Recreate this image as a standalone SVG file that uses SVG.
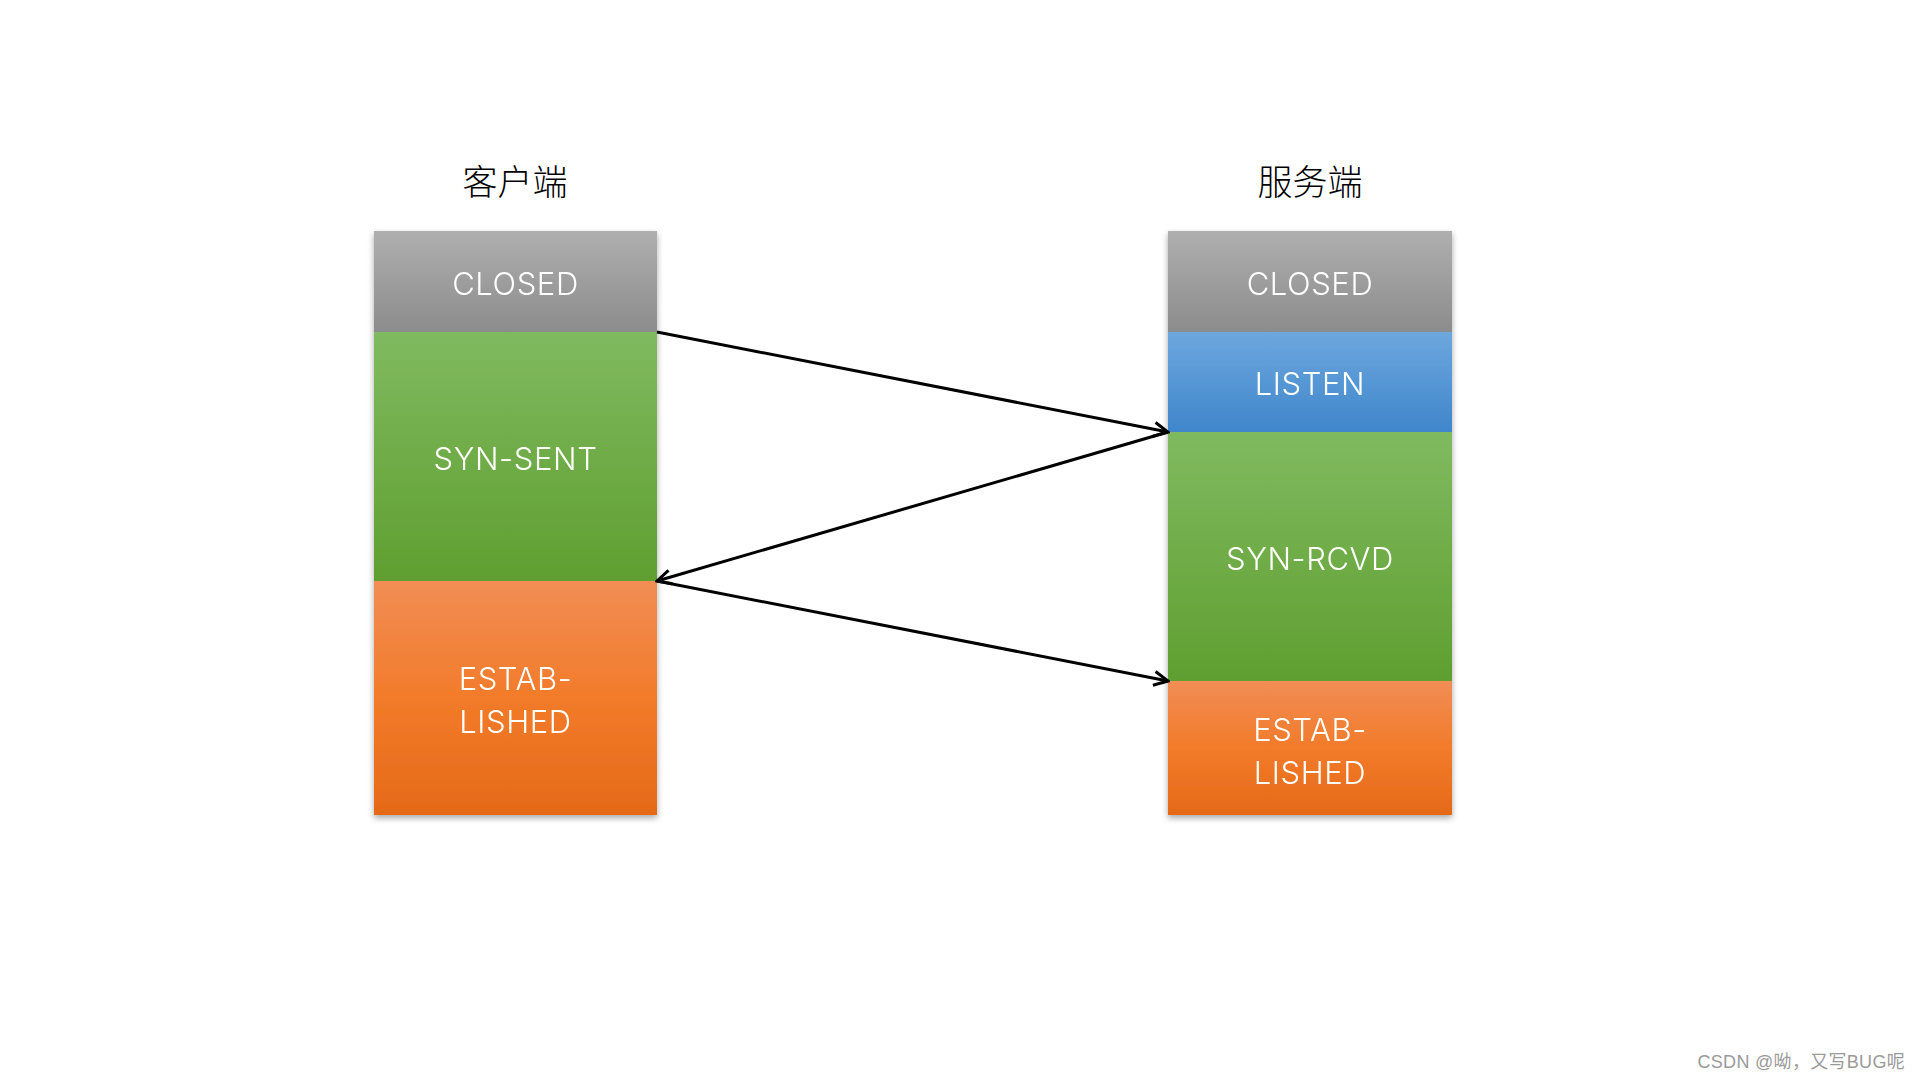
<svg xmlns="http://www.w3.org/2000/svg" width="1920" height="1080" viewBox="0 0 1920 1080">
<style>
.lbl{font-family:Inter,"Noto Sans","Liberation Sans",sans-serif;font-weight:300;font-size:31px;letter-spacing:0.6px;fill:#fff;text-anchor:middle;dominant-baseline:central}
.title{font-family:"Noto Sans CJK SC",sans-serif;font-weight:300;font-size:35px;fill:#000;text-anchor:middle}
.conn{stroke:#000;stroke-width:3;fill:none;marker-end:url(#arr)}
</style>
<defs>
<linearGradient id="gGray" x1="0" y1="0" x2="0" y2="1"><stop offset="0" stop-color="#afafaf"/><stop offset="1" stop-color="#8c8c8c"/></linearGradient>
<linearGradient id="gGreen" x1="0" y1="0" x2="0" y2="1"><stop offset="0" stop-color="#80ba60"/><stop offset="1" stop-color="#5f9f30"/></linearGradient>
<linearGradient id="gOrange" x1="0" y1="0" x2="0" y2="1"><stop offset="0" stop-color="#f18d55"/><stop offset="0.5" stop-color="#f27b2a"/><stop offset="1" stop-color="#e56a18"/></linearGradient>
<linearGradient id="gBlue" x1="0" y1="0" x2="0" y2="1"><stop offset="0" stop-color="#6da7de"/><stop offset="1" stop-color="#3f86cb"/></linearGradient>
<filter id="sh" x="-10%" y="-10%" width="120%" height="120%"><feDropShadow dx="0" dy="3" stdDeviation="3" flood-color="#000" flood-opacity="0.35"/></filter>
<marker id="arr" viewBox="0 0 20 20" refX="18" refY="10" markerWidth="20" markerHeight="20" markerUnits="userSpaceOnUse" orient="auto"><path d="M4,3 L18,10 L4,17" fill="none" stroke="#000" stroke-width="3"/></marker>
</defs>
<rect width="1920" height="1080" fill="#fff"/>
<text class="title" x="515" y="195">客户端</text>
<text class="title" x="1310" y="195">服务端</text>
<g id="client" filter="url(#sh)">
<g id="c-closed"><rect x="374" y="231" width="283" height="101" fill="url(#gGray)"/><text class="lbl" x="515.5" y="283">CLOSED</text></g>
<g id="c-synsent"><rect x="374" y="332" width="283" height="249" fill="url(#gGreen)"/><text class="lbl" x="515.5" y="458">SYN-SENT</text></g>
<g id="c-estab"><rect x="374" y="581" width="283" height="234" fill="url(#gOrange)"/><text class="lbl" x="515.5" y="678">ESTAB-</text><text class="lbl" x="515.5" y="721">LISHED</text></g>
</g>
<g id="server" filter="url(#sh)">
<g id="s-closed"><rect x="1168" y="231" width="284" height="101" fill="url(#gGray)"/><text class="lbl" x="1310" y="283">CLOSED</text></g>
<g id="s-listen"><rect x="1168" y="332" width="284" height="100" fill="url(#gBlue)"/><text class="lbl" x="1310" y="383">LISTEN</text></g>
<g id="s-synrcvd"><rect x="1168" y="432" width="284" height="249" fill="url(#gGreen)"/><text class="lbl" x="1310" y="558">SYN-RCVD</text></g>
<g id="s-estab"><rect x="1168" y="681" width="284" height="134" fill="url(#gOrange)"/><text class="lbl" x="1310" y="729">ESTAB-</text><text class="lbl" x="1310" y="772">LISHED</text></g>
</g>
<g id="connectors">
<line class="conn" x1="657" y1="332" x2="1168" y2="432"/>
<line class="conn" x1="1168" y1="432" x2="657" y2="581"/>
<line class="conn" x1="657" y1="581" x2="1168" y2="681"/>
</g>
<text x="1905" y="1068" font-family="'Liberation Sans','Noto Sans CJK SC',sans-serif" font-size="18" fill="#9a9a9a" text-anchor="end" letter-spacing="0.3">CSDN @呦，又写BUG呢</text>
</svg>
